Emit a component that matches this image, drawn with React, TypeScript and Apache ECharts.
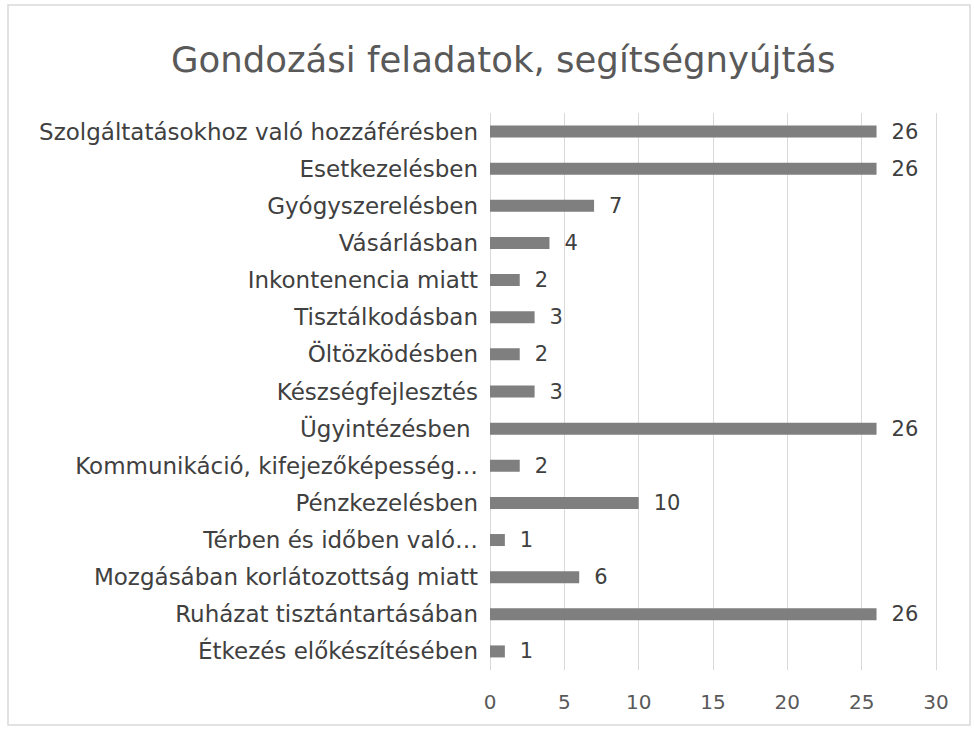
import React, { useEffect, useRef } from "react";
import * as echarts from "echarts";

const categories = [
  "Szolgáltatásokhoz való hozzáférésben",
  "Esetkezelésben",
  "Gyógyszerelésben",
  "Vásárlásban",
  "Inkontenencia miatt",
  "Tisztálkodásban",
  "Öltözködésben",
  "Készségfejlesztés",
  "Ügyintézésben ",
  "Kommunikáció, kifejezőképesség…",
  "Pénzkezelésben",
  "Térben és időben való…",
  "Mozgásában korlátozottság miatt",
  "Ruházat tisztántartásában",
  "Étkezés előkészítésében",
];
const values = [26, 26, 7, 4, 2, 3, 2, 3, 26, 2, 10, 1, 6, 26, 1];
const xTicks = [0, 5, 10, 15, 20, 25, 30];

export default function App() {
  const ref = useRef<HTMLDivElement>(null);
  useEffect(() => {
    document.body.style.margin = "0";
    const chart = echarts.init(ref.current!, null, { renderer: "svg" });
    const font = "'DejaVu Sans', sans-serif";
    chart.setOption({
      animation: false,
      backgroundColor: "#ffffff",
      title: {
        text: "Gondozási feladatok, segítségnyújtás",
        left: 166,
        top: 36,
        textStyle: { fontFamily: font, fontWeight: "normal", fontSize: 35.5, color: "#595959" },
      },
      graphic: [
        {
          type: "rect",
          shape: { x: 8, y: 5, width: 962, height: 720 },
          style: { fill: "none", stroke: "#d9d9d9", lineWidth: 1.5 },
        },
      ],
      grid: { left: 490, right: 38, top: 113, bottom: 60, containLabel: false },
      xAxis: {
        type: "value",
        min: xTicks[0],
        max: xTicks[xTicks.length - 1],
        interval: 5,
        axisLine: { show: false },
        axisTick: { show: false },
        splitLine: { lineStyle: { color: "#d9d9d9", width: 1 } },
        axisLabel: { fontFamily: font, fontSize: 20, color: "#595959", margin: 22 },
      },
      yAxis: {
        type: "category",
        data: categories,
        inverse: true,
        axisLine: { show: false },
        axisTick: { show: false },
        axisLabel: { fontFamily: font, fontSize: 23, color: "#404040", margin: 12 },
      },
      series: [
        {
          type: "bar",
          data: values,
          barWidth: 12,
          itemStyle: { color: "#7f7f7f" },
          label: {
            show: true,
            position: "right",
            distance: 15,
            fontFamily: font,
            fontSize: 21,
            color: "#404040",
          },
        },
      ],
    });
    return () => chart.dispose();
  }, []);
  return <div ref={ref} style={{ width: 974, height: 730 }} />;
}
